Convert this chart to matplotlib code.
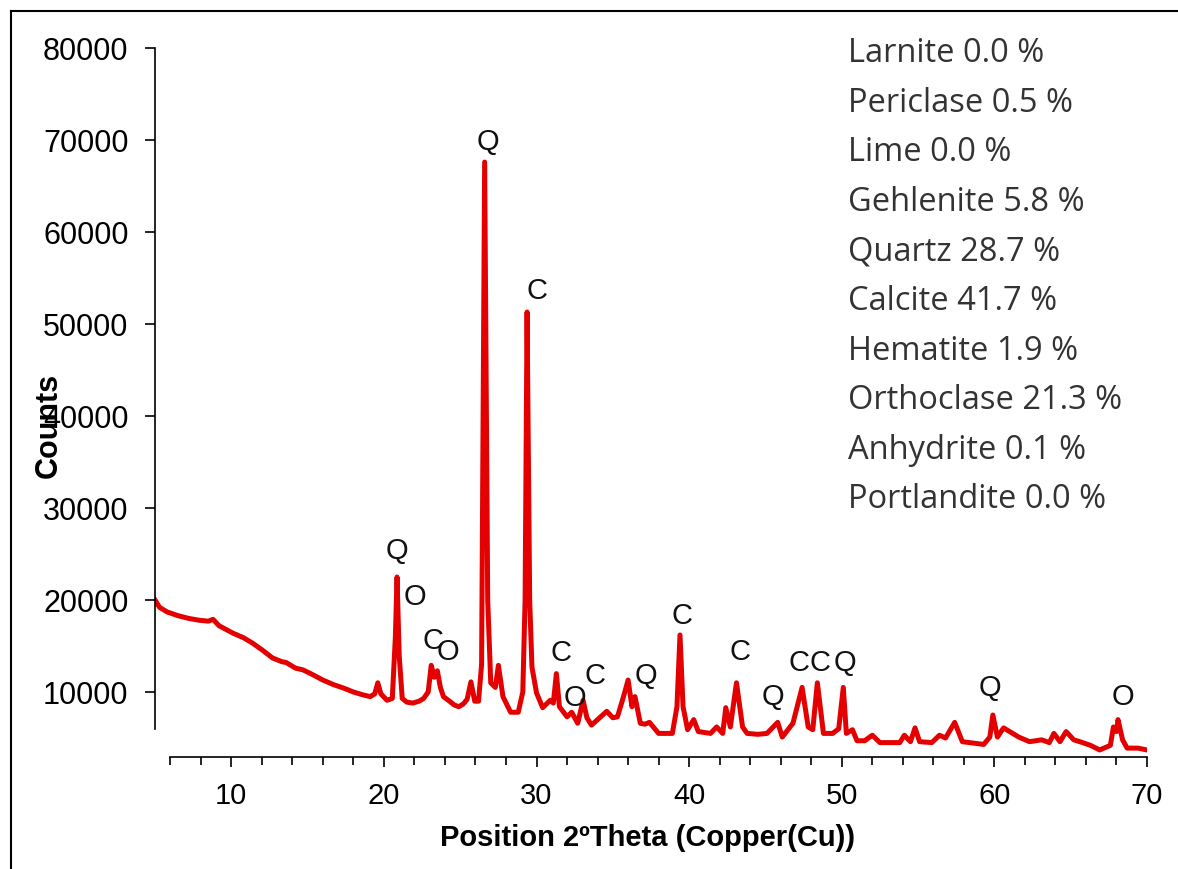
import numpy as np
import matplotlib
matplotlib.use('Agg')
from matplotlib import pyplot as plt
from matplotlib.lines import Line2D
from matplotlib.ticker import MultipleLocator, FixedLocator

# XRD pattern (2theta, counts)
two_theta = [5.0, 5.3, 5.8, 6.5, 7.2, 7.9, 8.5, 8.8, 9.2, 10.1, 10.8, 11.4, 12.0, 12.7,
             13.3, 13.6, 14.2, 14.7, 15.2, 16.0, 16.7, 17.4, 18.0, 18.6, 19.1, 19.4,
             19.6, 19.8, 20.2, 20.55, 20.75, 20.86, 21.0, 21.2, 21.5, 21.9, 22.3, 22.6,
             22.9, 23.1, 23.3, 23.5, 23.7, 23.9, 24.3, 24.6, 24.9, 25.2, 25.45, 25.7,
             25.95, 26.2, 26.4, 26.6, 26.8, 27.0, 27.3, 27.5, 27.8, 28.3, 28.8, 29.1,
             29.25, 29.38, 29.55, 29.7, 30.0, 30.4, 30.9, 31.1, 31.3, 31.5, 32.0, 32.3,
             32.7, 33.05, 33.3, 33.6, 34.0, 34.6, 35.0, 35.3, 35.7, 36.0, 36.25, 36.45,
             36.8, 37.1, 37.4, 38.0, 38.9, 39.2, 39.4, 39.6, 39.9, 40.3, 40.6, 41.4,
             41.8, 42.2, 42.4, 42.7, 43.1, 43.5, 43.8, 44.5, 45.1, 45.8, 46.1, 46.8,
             47.4, 47.8, 48.1, 48.4, 48.8, 49.4, 49.8, 50.1, 50.3, 50.7, 51.0, 51.5,
             52.0, 52.5, 53.8, 54.1, 54.5, 54.8, 55.1, 55.9, 56.4, 56.8, 57.4, 57.9,
             59.3, 59.7, 59.9, 60.2, 60.6, 61.0, 61.6, 62.3, 63.1, 63.6, 63.9, 64.3,
             64.7, 65.2, 65.6, 66.3, 66.9, 67.6, 67.8, 68.0, 68.1, 68.4, 68.7, 69.4, 70.0]
counts = [20000, 19200, 18700, 18300, 18000, 17800, 17700, 17900, 17200, 16400, 15900,
          15300, 14600, 13700, 13300, 13200, 12600, 12400, 12000, 11300, 10800, 10400,
          10000, 9700, 9500, 9800, 11000, 9800, 9100, 9300, 16000, 22500, 14000, 9300,
          8900, 8800, 9000, 9300, 10000, 12900, 11600, 12300, 10500, 9500, 9000, 8600,
          8400, 8700, 9200, 11100, 9000, 9000, 13000, 67600, 20000, 11000, 10500, 12900,
          9500, 7800, 7800, 10000, 20000, 51300, 20000, 12700, 9900, 8300, 9100, 8800,
          12000, 8400, 7300, 7800, 6600, 9100, 7200, 6400, 7000, 7900, 7200, 7300, 9500,
          11300, 8400, 9500, 6600, 6500, 6700, 5500, 5500, 8400, 16200, 8400, 5900, 7000,
          5700, 5500, 6200, 5500, 8300, 6200, 11000, 6200, 5500, 5400, 5500, 6700, 5100,
          6600, 10500, 6200, 5900, 11000, 5500, 5500, 6000, 10500, 5500, 5900, 4700, 4700,
          5300, 4500, 4500, 5300, 4600, 6100, 4600, 4500, 5300, 5000, 6700, 4600, 4300,
          5100, 7500, 5100, 6100, 5700, 5100, 4600, 4800, 4500, 5500, 4600, 5700, 4800,
          4600, 4200, 3700, 4200, 6200, 5700, 7000, 4800, 3900, 3900, 3700]

# phase letters above peaks
peak_letters = ['Q', 'O', 'C', 'O', 'Q', 'C', 'C', 'O', 'C', 'Q', 'C', 'C', 'Q',
                'C', 'C', 'Q', 'Q', 'O']
peak_x = [20.86, 22.0, 23.2, 24.2, 26.8, 30.0, 31.6, 32.5, 33.8, 37.2, 39.5, 43.3,
          45.5, 47.2, 48.6, 50.2, 59.7, 68.4]
peak_y = [25300, 20300, 15500, 14300, 69800, 53600, 14200, 9300, 11700, 11700, 18300,
          14300, 9500, 13200, 13200, 13200, 10400, 9500]

phases = ['Larnite 0.0 %', 'Periclase 0.5 %', 'Lime 0.0 %', 'Gehlenite 5.8 %',
          'Quartz 28.7 %', 'Calcite 41.7 %', 'Hematite 1.9 %', 'Orthoclase 21.3 %',
          'Anhydrite 0.1 %', 'Portlandite 0.0 %']

W, H = 1178, 869
plt.rcParams['font.family'] = ['Liberation Sans', 'DejaVu Sans']

fig = plt.figure(figsize=(W / 100, H / 100), dpi=100)
ax = fig.add_axes([155 / W, 1 - 757 / H, 992 / W, 709 / H])

ax.plot(two_theta, counts, color='#e40000', lw=3.6, solid_joinstyle='round')

for lab, px, py in zip(peak_letters, peak_x, peak_y):
    ax.text(px, py, lab, ha='center', va='center', fontsize=21, color='#111111')

ax.set_xlim(5, 70)
ax.set_ylim(2935, 80000)

ax.spines['top'].set_visible(False)
ax.spines['right'].set_visible(False)
ax.spines['left'].set_bounds(6000, 80000)
ax.spines['bottom'].set_bounds(6, 70)
ax.spines['left'].set_linewidth(1.2)
ax.spines['bottom'].set_linewidth(1.2)

ax.xaxis.set_major_locator(FixedLocator([10, 20, 30, 40, 50, 60, 70]))
ax.xaxis.set_minor_locator(MultipleLocator(2))
ax.yaxis.set_major_locator(FixedLocator(np.arange(10000, 80001, 10000)))

ax.tick_params(axis='x', which='major', direction='out', length=7, width=1.2,
               pad=11, labelsize=21)
ax.tick_params(axis='x', which='minor', direction='out', length=6, width=1.2)
ax.tick_params(axis='y', which='major', direction='out', length=7, width=1.2,
               pad=12, labelsize=22)

ax.set_xlabel('Position 2ºTheta (Copper(Cu))', fontsize=21, fontweight='bold')
ax.xaxis.set_label_coords(0.497, -0.094)
ax.set_ylabel('Counts', fontsize=22, fontweight='bold')
ax.yaxis.set_label_coords(-0.092, 0.468)

# phase percentages
for i, txt in enumerate(phases):
    base = 62 + i * 49.6
    fig.text(848 / W, 1 - base / H, txt, ha='left', va='baseline',
             fontsize=23.5, color='#333333', family=['Open Sans', 'DejaVu Sans'])

# frame lines from the original crop
fig.add_artist(Line2D([11 / W, 11 / W], [0, 1 - 11 / H], transform=fig.transFigure,
                      color='black', lw=1.5))
fig.add_artist(Line2D([11 / W, 1], [1 - 11 / H, 1 - 11 / H], transform=fig.transFigure,
                      color='black', lw=1.5))

plt.savefig('out.png', dpi=100)
